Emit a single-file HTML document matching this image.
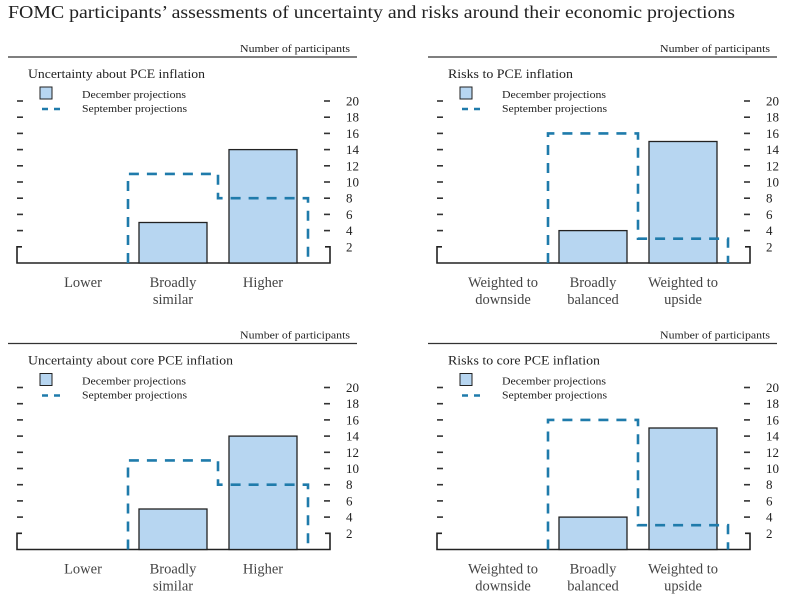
<!DOCTYPE html>
<html><head><meta charset="utf-8"><style>
body{margin:0;background:#fff;}
svg{display:block;font-family:"Liberation Serif",serif;}
</style></head><body>
<svg id="c" width="804" height="600">
<text x="8" y="18" font-size="17.5" textLength="727" lengthAdjust="spacingAndGlyphs" fill="#222">FOMC participants’ assessments of uncertainty and risks around their economic projections</text>
</svg>
<script>
const titles=["Uncertainty about PCE inflation","Risks to PCE inflation","Uncertainty about core PCE inflation","Risks to core PCE inflation"];
const catsUnc=[["Lower"],["Broadly","similar"],["Higher"]];
const catsRisk=[["Weighted to","downside"],["Broadly","balanced"],["Weighted to","upside"]];
const decUnc=[0,5,14];
const sepUnc=[0,11,8];
const decRisk=[0,4,15];
const sepRisk=[0,16,3];
const decCoreUnc=[0,5,14];
const sepCoreUnc=[0,11,8];
const decCoreRisk=[0,4,15];
const sepCoreRisk=[0,16,3];
const tickVals=[20,18,16,14,12,10,8,6,4,2];
const NS="http://www.w3.org/2000/svg";
const svg=document.getElementById('c');
function mk(tag,attrs,parent){const e=document.createElementNS(NS,tag);for(const k in attrs)e.setAttribute(k,attrs[k]);(parent||svg).appendChild(e);return e;}
const panels=[
 {ox:0,oy:0,t:titles[0],tl:177,cats:catsUnc,dec:decUnc,sep:sepUnc},
 {ox:420,oy:0,t:titles[1],tl:125,cats:catsRisk,dec:decRisk,sep:sepRisk},
 {ox:0,oy:286.5,t:titles[2],tl:205,cats:catsUnc,dec:decCoreUnc,sep:sepCoreUnc},
 {ox:420,oy:286.5,t:titles[3],tl:152,cats:catsRisk,dec:decCoreRisk,sep:sepCoreRisk}];
panels.forEach((p,pi)=>{
 const g=mk('g',{transform:`translate(${p.ox},${p.oy})`});
 
 
 const base=263, k=8.1, cw=90, x0=38;
 const y=v=>base-v*k;
 const xc=i=>x0+cw*i;
 let e=mk('line',{x1:8,x2:357,y1:57,y2:57,stroke:'#333','stroke-width':1.2},g);
 
 e=mk('text',{x:240,y:52,'font-size':10.5,textLength:110,lengthAdjust:'spacingAndGlyphs',fill:'#222'},g);e.textContent='Number of participants';
 
 e=mk('text',{x:28,y:78,'font-size':12.5,textLength:p.tl,lengthAdjust:'spacingAndGlyphs',fill:'#222'},g);e.textContent=p.t;
 
 e=mk('rect',{x:40,y:87,width:12,height:12,fill:'#b7d6f1',stroke:'#222','stroke-width':1},g);
 
 e=mk('text',{x:82,y:98,'font-size':10.5,textLength:104,lengthAdjust:'spacingAndGlyphs',fill:'#222'},g);e.textContent='December projections';
 
 e=mk('line',{x1:42,x2:66,y1:109,y2:109,stroke:'#1f7bab','stroke-width':2.6,'stroke-dasharray':'6,6'},g);
 
 e=mk('text',{x:82,y:112,'font-size':10.5,textLength:105,lengthAdjust:'spacingAndGlyphs',fill:'#222'},g);e.textContent='September projections';
 
 tickVals.forEach(v=>{
  const yy=y(v);
  if(v>2){
   e=mk('line',{x1:17,x2:23,y1:yy,y2:yy,stroke:'#333','stroke-width':1.6},g);
   
   e=mk('line',{x1:324,x2:330,y1:yy,y2:yy,stroke:'#333','stroke-width':1.6},g);
   
  }
  e=mk('text',{x:346,y:yy+4.5,'font-size':13,fill:'#222'},g);e.textContent=v;
  
 });
 e=mk('path',{d:`M22 ${y(2)} H17 V${base} H330 V${y(2)} H325`,fill:'none',stroke:'#222','stroke-width':1.6},g);
 
 p.dec.forEach((v,i)=>{
  if(v<=0)return;
  const r=mk('rect',{x:xc(i)+11,y:y(v),width:68,height:v*k,fill:'#b7d6f1',stroke:'#222','stroke-width':1.3},g);
  
  
 });
 let d='', started=false;
 p.sep.forEach((v,i)=>{
  if(!started){ if(v>0){started=true;d=`M${xc(i)} ${base} V${y(v)} H${xc(i+1)}`;} return;}
  d+=` V${y(v)} H${xc(i+1)}`;
 });
 if(started)d+=` V${base}`;
 e=mk('path',{d:d,fill:'none',stroke:'#1f7bab','stroke-width':2.6,'stroke-dasharray':'10,8'},g);
 
 p.cats.forEach((lines,i)=>{
  lines.forEach((ln,j)=>{
   const t=mk('text',{x:xc(i)+45,y:287+j*17,'font-size':14.5,'text-anchor':'middle',fill:'#444'},g);
   t.textContent=ln;
   
   
  });
 });
});
</script>
</body></html>
